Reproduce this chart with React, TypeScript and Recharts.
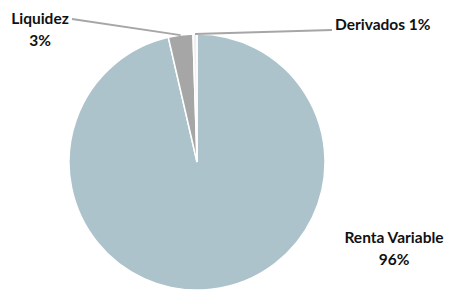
import { Cell, Pie, PieChart } from 'recharts';

const categories = ['Renta Variable', 'Liquidez', 'Derivados'];
const shares = [96.4, 3.1, 0.5];
const shareLabels = ['96%', '3%', '1%'];

const COLORS = ['#adc3cc', '#a6a6a6', '#f0f0f0'];
const LINE_COLOR = '#a6a6a6';
const FONT = 'Lato, "Open Sans", sans-serif';

const data = categories.map((name, i) => ({ name, value: shares[i], pct: shareLabels[i] }));

const RADIAN = Math.PI / 180;

function SliceLabel(props: any) {
  const { cx, cy, midAngle, outerRadius, index } = props;
  const ex = cx + outerRadius * Math.cos(-midAngle * RADIAN);
  const ey = cy + outerRadius * Math.sin(-midAngle * RADIAN);
  const style = { fontFamily: FONT, fontWeight: 700, fontSize: 15.5, fill: '#111' };
  const d = data[index];
  if (index === 0) {
    return (
      <g>
        <text x={cx + 197} y={cy + 81} textAnchor="middle" style={style}>{d.name}</text>
        <text x={cx + 197} y={cy + 103} textAnchor="middle" style={style}>{d.pct}</text>
      </g>
    );
  }
  if (index === 1) {
    return (
      <g>
        <polyline points={`${ex},${ey} ${cx - 125},${cy - 143}`} fill="none" stroke={LINE_COLOR} strokeWidth={1.8} />
        <text x={cx - 157} y={cy - 138} textAnchor="middle" style={style}>{d.name}</text>
        <text x={cx - 157} y={cy - 116} textAnchor="middle" style={style}>{d.pct}</text>
      </g>
    );
  }
  return (
    <g>
      <polyline points={`${ex},${ey} ${cx + 135},${cy - 132}`} fill="none" stroke={LINE_COLOR} strokeWidth={1.8} />
      <text x={cx + 138} y={cy - 132} textAnchor="start" style={style}>{`${d.name} ${d.pct}`}</text>
    </g>
  );
}

export default function App() {
  return (
    <div style={{ position: 'absolute', left: 0, top: 0, width: 449, height: 290, background: '#fff' }}>
      <PieChart width={449} height={290} margin={{ top: 0, right: 0, bottom: 0, left: 0 }}>
        <Pie
          data={data}
          dataKey="value"
          nameKey="name"
          cx={197}
          cy={162}
          outerRadius={128}
          startAngle={90}
          endAngle={-270}
          stroke="#fff"
          strokeWidth={1.5}
          label={SliceLabel}
          labelLine={false}
          isAnimationActive={false}
        >
          {data.map((d, i) => (
            <Cell key={d.name} fill={COLORS[i]} />
          ))}
        </Pie>
      </PieChart>
    </div>
  );
}
